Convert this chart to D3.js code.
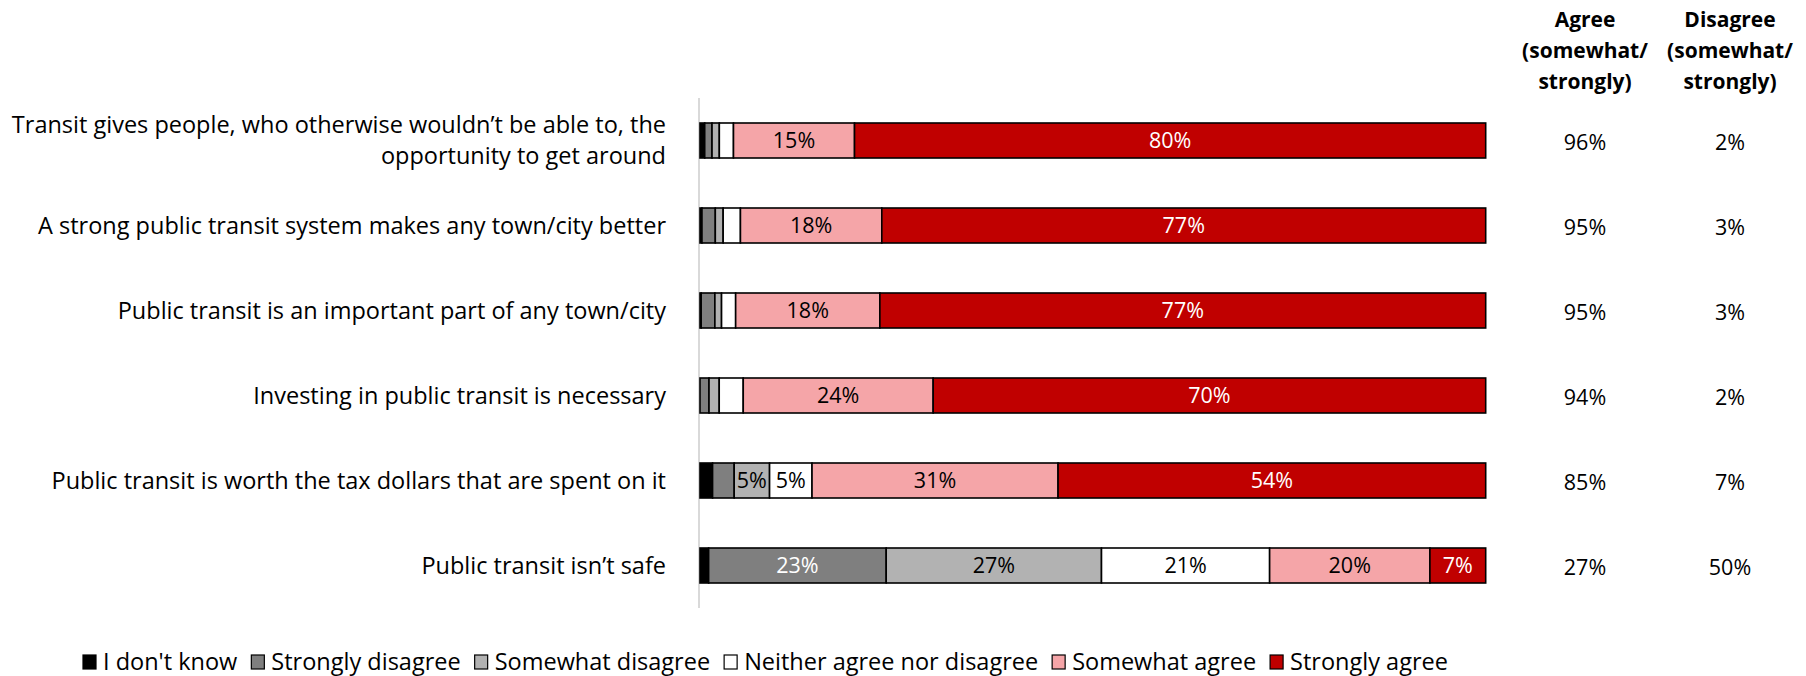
<!DOCTYPE html>
<html>
<head>
<meta charset="utf-8">
<script src="https://cdn.jsdelivr.net/npm/d3@7"></script>
<style>
  html, body { margin: 0; padding: 0; background: #fff; }
  svg { display: block; font-family: "Open Sans", "Noto Sans", sans-serif; }
</style>
</head>
<body>
<svg id="chart" width="1806" height="676"></svg>
<script>
const categories = [
  "Transit gives people, who otherwise wouldn\u2019t be able to, the|opportunity to get around",
  "A strong public transit system makes any town/city better",
  "Public transit is an important part of any town/city",
  "Investing in public transit is necessary",
  "Public transit is worth the tax dollars that are spent on it",
  "Public transit isn\u2019t safe"
];
const seriesNames = ["I don't know", "Strongly disagree", "Somewhat disagree", "Neither agree nor disagree", "Somewhat agree", "Strongly agree"];
const dontKnow          = [0.6, 0.25, 0.15, 0.0, 1.6, 1.1];
const stronglyDisagree  = [0.93, 1.7, 1.75, 1.15, 2.75, 22.6];
const somewhatDisagree  = [0.93, 1.0, 0.85, 1.3, 4.5, 27.4];
const neither           = [1.8, 2.2, 1.8, 3.06, 5.4, 21.4];
const somewhatAgree     = [15.4, 18.0, 18.4, 24.2, 31.3, 20.4];
const stronglyAgree     = [80.3, 76.9, 77.3, 70.4, 54.4, 7.1];
const agreeTotals    = ["96%", "95%", "95%", "94%", "85%", "27%"];
const disagreeTotals = ["2%", "3%", "3%", "2%", "7%", "50%"];
const headerAgree    = ["Agree", "(somewhat/", "strongly)"];
const headerDisagree = ["Disagree", "(somewhat/", "strongly)"];

const colors = ["#000000", "#7f7f7f", "#b2b2b2", "#ffffff", "#f5a5a8", "#c00000"];
const labelColors = ["#fff", "#fff", "#000", "#000", "#000", "#fff"];

const seriesValues = [dontKnow, stronglyDisagree, somewhatDisagree, neither, somewhatAgree, stronglyAgree];
const rows = categories.map((c, i) => {
  const r = { cat: c };
  seriesNames.forEach((s, k) => r[s] = seriesValues[k][i]);
  return r;
});

const svg = d3.select("#chart");
const numSize = 21.5;
const textSize = 23.5;

const x = d3.scaleLinear().domain([0, 1]).range([700, 1485.7]);
const y = d3.scaleBand().domain(categories).range([98, 608]).paddingInner(50 / 85).paddingOuter(25 / 85);

const stack = d3.stack().keys(seriesNames).offset(d3.stackOffsetExpand);
const stacked = stack(rows);

// axis line
svg.append("line")
  .attr("x1", x(0) - 1).attr("x2", x(0) - 1)
  .attr("y1", 98).attr("y2", 608)
  .attr("stroke", "#d9d9d9").attr("stroke-width", 2);

const g = svg.append("g");
stacked.forEach((layer, k) => {
  const lg = g.append("g");
  lg.selectAll("rect").data(layer).enter().append("rect")
    .attr("x", d => x(d[0]))
    .attr("y", d => y(d.data.cat))
    .attr("width", d => Math.max(0, x(d[1]) - x(d[0])))
    .attr("height", y.bandwidth())
    .attr("fill", colors[k])
    .attr("stroke", "#000")
    .attr("stroke-width", 1.6);
});
stacked.forEach((layer, k) => {
  g.append("g").selectAll("text").data(layer.filter((d, i) => Math.round(seriesValues[k][i]) >= 5)).enter().append("text")
    .attr("x", d => (x(d[0]) + x(d[1])) / 2)
    .attr("y", d => y(d.data.cat) + y.bandwidth() / 2)
    .attr("dy", "0.35em")
    .attr("text-anchor", "middle")
    .attr("font-size", numSize)
    .attr("fill", labelColors[k])
    .text((d) => Math.round(d.data[layer.key]) + "%");
});

// category labels
categories.forEach(c => {
  const lines = c.split("|");
  const cy = y(c) + y.bandwidth() / 2;
  const lh = 31;
  const t = svg.append("text")
    .attr("x", 666)
    .attr("text-anchor", "end")
    .attr("font-size", textSize)
    .attr("fill", "#000");
  lines.forEach((ln, j) => {
    t.append("tspan")
      .attr("x", 666)
      .attr("y", cy + (j - (lines.length - 1) / 2) * lh)
      .attr("dy", "0.35em")
      .text(ln);
  });
});

// totals columns
const colX = [1585, 1730];
[agreeTotals, disagreeTotals].forEach((arr, ci) => {
  svg.append("g").selectAll("text").data(arr).enter().append("text")
    .attr("x", colX[ci])
    .attr("y", (d, i) => y(categories[i]) + y.bandwidth() / 2 + 2)
    .attr("dy", "0.35em")
    .attr("text-anchor", "middle")
    .attr("font-size", numSize)
    .text(d => d);
});
[headerAgree, headerDisagree].forEach((arr, ci) => {
  svg.append("g").selectAll("text").data(arr).enter().append("text")
    .attr("x", colX[ci])
    .attr("y", (d, i) => 20 + i * 31)
    .attr("dy", "0.35em")
    .attr("text-anchor", "middle")
    .attr("font-size", 21)
    .attr("font-weight", "bold")
    .text(d => d);
});

// legend
const legend = svg.append("g");
let lx = 83;
const ly = 662;
seriesNames.forEach((s, k) => {
  legend.append("rect")
    .attr("x", lx).attr("y", ly - 7)
    .attr("width", 13).attr("height", 14)
    .attr("fill", colors[k]).attr("stroke", "#000").attr("stroke-width", 1.2);
  const t = legend.append("text")
    .attr("x", lx + 20).attr("y", ly).attr("dy", "0.35em")
    .attr("font-size", textSize)
    .text(s);
  lx += 20 + t.node().getComputedTextLength() + 14;
});
</script>
</body>
</html>
